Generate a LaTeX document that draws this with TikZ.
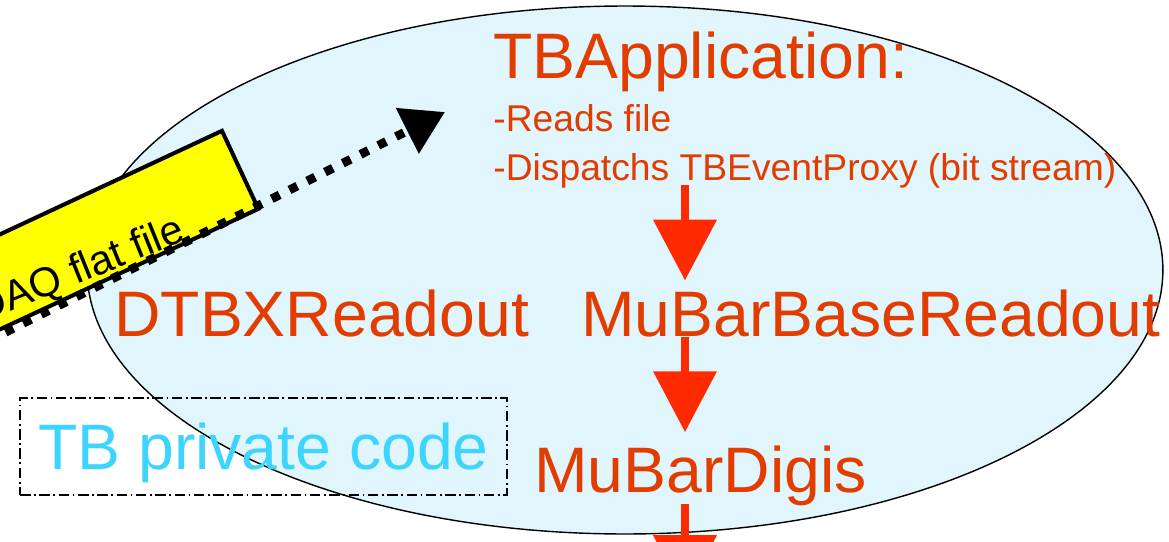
\documentclass[tikz,border=0pt]{standalone}
\usepackage{fontspec}
\setmainfont{Liberation Sans}
\usetikzlibrary{arrows.meta,shapes.geometric}

\definecolor{appfill}{RGB}{224,246,252}
\definecolor{classred}{RGB}{226,60,0}
\definecolor{flowred}{RGB}{255,42,0}
\definecolor{tbcyan}{RGB}{61,213,255}
\definecolor{daqyellow}{RGB}{255,255,0}

\begin{document}
\begin{tikzpicture}[x=0.02cm,y=-0.02cm,
  big/.style={font=\fontsize{36.6}{40}\selectfont, text=classred, inner sep=0pt, anchor=base west},
  small/.style={font=\fontsize{21.2}{24}\selectfont, text=classred, inner sep=0pt, anchor=base west},
  appregion/.style={ellipse, draw=black, line width=0.8pt, fill=appfill, inner sep=0pt, outer sep=0pt,
    minimum width=612.3pt, minimum height=300.5pt},
  flow/.style={draw=flowred, line width=4.5pt, -{Triangle[length=34.6pt,width=35.2pt]}},
  filebox/.style={draw=black, line width=2.3pt, fill=daqyellow, rotate=25, inner sep=0pt,
    minimum width=300pt, minimum height=49pt},
  datapath/.style={draw=black, line width=5pt, dash pattern=on 5pt off 6.3pt,
    -{Triangle[length=24pt,width=27.8pt]}},
  privbox/.style={draw=black, line width=0.9pt, dash pattern=on 6pt off 2pt on 1pt off 2pt,
    inner sep=0pt, minimum width=277.2pt, minimum height=55pt, text depth=0pt,
    font=\fontsize{36.6}{40}\selectfont, text=tbcyan}
]
\useasboundingbox (0,0) rectangle (1169,541);
\clip (0,0) rectangle (1169,541);

% application region
\node[appregion] (app) at (625,270) {};

% text inside the application
\node[big]   (tbapp) at (493,78)  {TBApplication:};
\node[small] (reads) at (493,131) {-Reads file};
\node[small] (disp)  at (493,180) {-Dispatchs TBEventProxy (bit stream)};
\node[big]   (dtbx)  at (114,336) {DTBXReadout};
\node[big]   (mbr)   at (581,336) {MuBarBaseReadout};
\node[big]   (mdg)   at (534,492) {MuBarDigis};

% private code frame
\node[privbox] (priv) at (263.5,446.5) {TB private code};

% input file
\node[filebox, anchor=east] (daq) at (242,169) {};
\node[rotate=22, anchor=base east, inner sep=0pt, font=\fontsize{23.5}{28}\selectfont]
  (daqtxt) at (187,240) {DAQ flat file};

% data flow from the file into the application
\coordinate (dstart) at (-30,350);
\coordinate (dtip) at (445,112);
\draw[datapath] (dstart) -- (dtip);

% processing chain
\coordinate (spine) at (685,0);
\coordinate (chainout) at (685,596);
\draw[flow, shorten <=-1.7pt, shorten >=4.9pt] (disp.south -| spine) -- (mbr.north -| spine);
\draw[flow, shorten >=7.4pt] (mbr.south -| spine) -- (mdg.north -| spine);
\draw[flow, shorten <=-1pt] (mdg.south -| spine) -- (chainout);
\end{tikzpicture}
\end{document}
